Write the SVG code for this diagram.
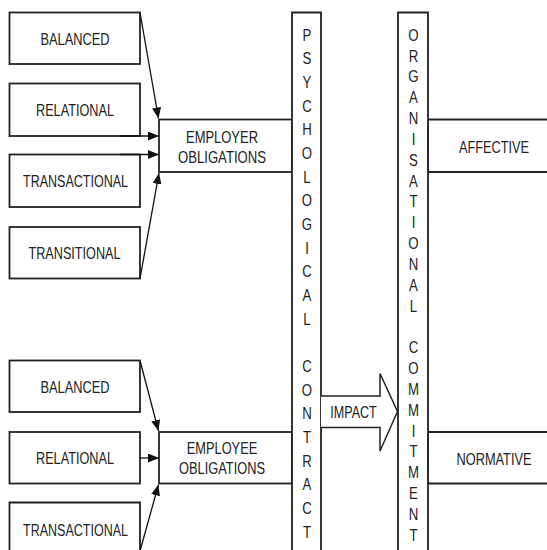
<svg xmlns="http://www.w3.org/2000/svg" width="547" height="550" viewBox="0 0 547 550">
<defs>
<style>
.box{fill:#fff;stroke:#222;stroke-width:1.8}
.bar{fill:#fff;stroke:#222;stroke-width:1.8}
.lbl{font-family:"Liberation Sans",Arial,sans-serif;font-size:16.5px;fill:#222;text-anchor:middle}
.con{fill:none;stroke:#111;stroke-width:1.3}
</style>
<marker id="ah" viewBox="0 0 11 9" refX="11" refY="4.5" markerWidth="11" markerHeight="9" orient="auto" markerUnits="userSpaceOnUse">
<path d="M0,0 L11,4.5 L0,9 z" fill="#111"/>
</marker>
</defs>
<rect width="547" height="550" fill="#fff"/>

<g id="top-balanced"><rect class="box" x="9.5" y="12.5" width="130.5" height="51.5"/><text class="lbl" x="75" y="44.5" textLength="69" lengthAdjust="spacingAndGlyphs">BALANCED</text></g>
<g id="top-relational"><rect class="box" x="9.5" y="83.5" width="130.5" height="52.5"/><text class="lbl" x="75" y="116" textLength="78" lengthAdjust="spacingAndGlyphs">RELATIONAL</text></g>
<g id="top-transactional"><rect class="box" x="9.5" y="154.5" width="130.5" height="52.5"/><text class="lbl" x="75.5" y="187" textLength="105" lengthAdjust="spacingAndGlyphs">TRANSACTIONAL</text></g>
<g id="top-transitional"><rect class="box" x="9.5" y="227" width="130.5" height="51.5"/><text class="lbl" x="74.5" y="259" textLength="92" lengthAdjust="spacingAndGlyphs">TRANSITIONAL</text></g>

<g id="employer"><rect class="box" x="159" y="119.5" width="133" height="52.5"/><text class="lbl" x="222" y="143" textLength="72" lengthAdjust="spacingAndGlyphs">EMPLOYER</text><text class="lbl" x="222" y="162.5" textLength="88" lengthAdjust="spacingAndGlyphs">OBLIGATIONS</text></g>

<g id="bottom-balanced"><rect class="box" x="9.5" y="360.5" width="130.5" height="51.5"/><text class="lbl" x="75" y="392.5" textLength="69" lengthAdjust="spacingAndGlyphs">BALANCED</text></g>
<g id="bottom-relational"><rect class="box" x="9.5" y="432" width="130.5" height="51.5"/><text class="lbl" x="75" y="464" textLength="78" lengthAdjust="spacingAndGlyphs">RELATIONAL</text></g>
<g id="bottom-transactional"><path class="box" d="M9.5,551 V502.5 H140 V551"/><text class="lbl" x="75.5" y="535.5" textLength="105" lengthAdjust="spacingAndGlyphs">TRANSACTIONAL</text></g>

<g id="employee"><rect class="box" x="159" y="432" width="133" height="51.5"/><text class="lbl" x="222" y="454" textLength="70.5" lengthAdjust="spacingAndGlyphs">EMPLOYEE</text><text class="lbl" x="222" y="474" textLength="86" lengthAdjust="spacingAndGlyphs">OBLIGATIONS</text></g>

<g id="affective"><path class="box" d="M547,119.5 H428 V172 H547"/><text class="lbl" x="494" y="152.5" textLength="70" lengthAdjust="spacingAndGlyphs">AFFECTIVE</text></g>
<g id="normative"><path class="box" d="M547,432 H428 V483.5 H547"/><text class="lbl" x="494" y="465" textLength="75" lengthAdjust="spacingAndGlyphs">NORMATIVE</text></g>

<g id="psychological-contract">
<path class="bar" d="M292,551 V12.5 H321 V551"/>
<g transform="translate(307,0) scale(0.8,1)">
<text class="lbl" x="0" y="40.8">P</text>
<text class="lbl" x="0" y="64.5">S</text>
<text class="lbl" x="0" y="88.1">Y</text>
<text class="lbl" x="0" y="111.8">C</text>
<text class="lbl" x="0" y="135.5">H</text>
<text class="lbl" x="0" y="159.2">O</text>
<text class="lbl" x="0" y="182.8">L</text>
<text class="lbl" x="0" y="206.5">O</text>
<text class="lbl" x="0" y="230.2">G</text>
<text class="lbl" x="0" y="253.8">I</text>
<text class="lbl" x="0" y="277.5">C</text>
<text class="lbl" x="0" y="301.2">A</text>
<text class="lbl" x="0" y="324.8">L</text>
<text class="lbl" x="0" y="372.2">C</text>
<text class="lbl" x="0" y="395.9">O</text>
<text class="lbl" x="0" y="419.5">N</text>
<text class="lbl" x="0" y="443.2">T</text>
<text class="lbl" x="0" y="466.9">R</text>
<text class="lbl" x="0" y="490.5">A</text>
<text class="lbl" x="0" y="514.2">C</text>
<text class="lbl" x="0" y="537.9">T</text>
</g>
</g>

<g id="organisational-commitment">
<path class="bar" d="M398,551 V12.5 H428 V551"/>
<g transform="translate(413.5,0) scale(0.8,1)">
<text class="lbl" x="0" y="40.8">O</text>
<text class="lbl" x="0" y="61.6">R</text>
<text class="lbl" x="0" y="82.5">G</text>
<text class="lbl" x="0" y="103.3">A</text>
<text class="lbl" x="0" y="124.1">N</text>
<text class="lbl" x="0" y="145">I</text>
<text class="lbl" x="0" y="165.8">S</text>
<text class="lbl" x="0" y="186.6">A</text>
<text class="lbl" x="0" y="207.4">T</text>
<text class="lbl" x="0" y="228.3">I</text>
<text class="lbl" x="0" y="249.1">O</text>
<text class="lbl" x="0" y="269.9">N</text>
<text class="lbl" x="0" y="290.8">A</text>
<text class="lbl" x="0" y="311.6">L</text>
<text class="lbl" x="0" y="353.3">C</text>
<text class="lbl" x="0" y="374.1">O</text>
<text class="lbl" x="0" y="394.9">M</text>
<text class="lbl" x="0" y="415.7">M</text>
<text class="lbl" x="0" y="436.6">I</text>
<text class="lbl" x="0" y="457.4">T</text>
<text class="lbl" x="0" y="478.2">M</text>
<text class="lbl" x="0" y="499.1">E</text>
<text class="lbl" x="0" y="519.9">N</text>
<text class="lbl" x="0" y="540.7">T</text>
</g>
</g>

<g id="connectors">
<line class="con" x1="140" y1="12.5" x2="158.5" y2="118.5" marker-end="url(#ah)"/>
<line class="con" x1="120" y1="136" x2="159" y2="136" marker-end="url(#ah)"/>
<line class="con" x1="120" y1="154.5" x2="159" y2="154.5" marker-end="url(#ah)"/>
<line class="con" x1="140" y1="278.5" x2="159" y2="173" marker-end="url(#ah)"/>
<line class="con" x1="140" y1="360.5" x2="158.5" y2="431" marker-end="url(#ah)"/>
<line class="con" x1="140" y1="458" x2="159" y2="458" marker-end="url(#ah)"/>
<line class="con" x1="140" y1="551" x2="158.5" y2="484.5" marker-end="url(#ah)"/>
</g>

<g id="impact">
<path d="M321,396 H380 V373.5 L397.5,411.5 L380,451 V427.5 H321" fill="#fff" stroke="#222" stroke-width="1.5" stroke-linejoin="miter"/>
<text class="lbl" x="353.5" y="418" textLength="46.5" lengthAdjust="spacingAndGlyphs">IMPACT</text>
</g>
</svg>
